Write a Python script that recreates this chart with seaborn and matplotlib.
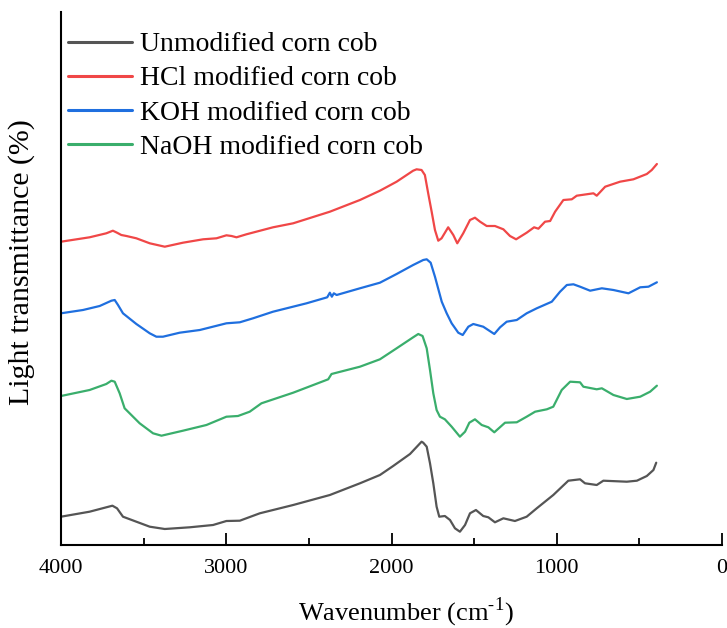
import numpy as np
import pandas as pd
import matplotlib
matplotlib.use("Agg")
import matplotlib.pyplot as plt
import seaborn as sns

# ---- data (wavenumber cm-1, offset transmittance a.u.) ----
unmod_wn = [4000, 3827, 3689, 3661, 3625, 3544, 3463, 3372, 3221, 3080, 2999, 2918, 2797, 2595,
            2373, 2191, 2070, 1990, 1888, 1818, 1808, 1787, 1767, 1747, 1727, 1711, 1677, 1646,
            1616, 1586, 1555, 1525, 1489, 1445, 1414, 1374, 1323, 1253, 1182, 1121, 1021, 930,
            859, 829, 758, 718, 576, 515, 455, 415, 398]
unmod_t = [28.3, 33.3, 39.3, 36.7, 28.3, 23.3, 18.3, 16, 17.7, 20, 24, 24.3, 31.7, 40,
           50, 61.7, 70, 79, 91, 103.3, 102.3, 98.3, 81.7, 61.7, 38.3, 28.3, 29, 25,
           16.7, 13.3, 20, 31.7, 35, 29, 27.7, 22.7, 26.7, 24, 28.3, 36.7, 50, 64.3,
           65.7, 61.7, 60, 64.3, 63.3, 64.3, 69, 75, 82.3]

hcl_wn = [4000, 3827, 3726, 3686, 3661, 3635, 3604, 3544, 3463, 3372, 3262, 3140, 3059, 2999,
          2968, 2938, 2878, 2717, 2595, 2373, 2191, 2070, 1969, 1869, 1848, 1818, 1798, 1778,
          1757, 1737, 1717, 1697, 1657, 1626, 1602, 1566, 1525, 1495, 1464, 1424, 1374, 1323,
          1283, 1246, 1182, 1137, 1111, 1071, 1040, 1010, 960, 909, 879, 778, 758, 707,
          617, 536, 455, 425, 394]
hcl_t = [303.3, 307.7, 311.7, 314.3, 312.3, 310, 309, 306.7, 301.7, 298.3, 302.3, 305.7, 306.7, 309.7,
         309, 307.7, 310.7, 317.7, 321.7, 333.3, 345, 354.3, 363.3, 374.3, 375.7, 375, 370, 351.7,
         333.3, 315, 304.3, 306.7, 317.7, 310, 301.7, 311.7, 325, 327.3, 323.3, 319, 319, 315.7,
         309, 305.7, 312.3, 317.7, 316.3, 323.3, 324, 333.3, 345, 345.7, 349.3, 351.7, 349.3, 358.3,
         363.3, 365.7, 371, 375, 381]

koh_wn = [4000, 3867, 3766, 3695, 3675, 3655, 3625, 3544, 3463, 3423, 3383, 3282, 3160, 2999,
          2918, 2838, 2717, 2514, 2389, 2373, 2361, 2349, 2332, 2191, 2070, 1969, 1869, 1808,
          1787, 1763, 1737, 1696, 1666, 1636, 1596, 1569, 1535, 1505, 1445, 1378, 1343, 1303,
          1242, 1182, 1121, 1030, 980, 939, 899, 859, 798, 727, 657, 566, 495, 445, 394]
koh_t = [231.7, 235, 239, 244.3, 245, 240, 231.7, 221, 211.7, 208.3, 208.3, 212.3, 215, 221.7,
         222.7, 226.7, 233.3, 241.7, 247.7, 252.3, 248.3, 251.7, 250, 256.7, 262.3, 271, 280, 285,
         285.7, 282.3, 268.3, 243.3, 231.7, 221.7, 212.3, 210, 218.3, 221, 218.3, 211, 217.7, 223.3,
         225, 231.7, 236.7, 243.3, 253.3, 260, 260.7, 258.3, 254.3, 256.7, 255, 251.7, 257.7, 258.3, 262.7]

naoh_wn = [4000, 3827, 3726, 3695, 3675, 3645, 3615, 3524, 3443, 3392, 3262, 3120, 2999, 2929,
           2858, 2787, 2595, 2383, 2363, 2191, 2070, 1969, 1869, 1838, 1812, 1787, 1767, 1747,
           1727, 1707, 1677, 1636, 1586, 1555, 1529, 1495, 1454, 1414, 1378, 1313, 1242, 1182,
           1131, 1060, 1021, 970, 919, 859, 839, 758, 727, 657, 576, 495, 435, 394]
naoh_t = [149, 155, 161, 164.3, 163.3, 151.7, 136.7, 121.7, 111.7, 109.3, 114.3, 120, 128.3, 129,
          133.3, 141.7, 152.3, 165.7, 171, 178.3, 185.7, 196.7, 207.7, 211, 209, 196.7, 175, 151.7,
          135, 128.3, 125.7, 118.3, 108.3, 113.3, 122.3, 125.7, 120, 117.7, 112.7, 122.3, 122.7, 128.3,
          133.3, 135.7, 138.3, 155, 163.3, 162.7, 158.3, 155.7, 156.7, 150, 146, 148.3, 153.3, 159.3]

labels = ["Unmodified corn cob", "HCl modified corn cob",
          "KOH modified corn cob", "NaOH modified corn cob"]
colors = ["#555555", "#F04747", "#1F6FDF", "#3AAE6C"]
x_ticks = [4000, 3000, 2000, 1000, 0]

frames = []
for lab, wn, t in zip(labels, [unmod_wn, hcl_wn, koh_wn, naoh_wn],
                      [unmod_t, hcl_t, koh_t, naoh_t]):
    frames.append(pd.DataFrame({"Wavenumber": wn, "T": t, "Sample": lab}))
df = pd.concat(frames, ignore_index=True)

sns.set_theme(style="ticks")
serif = ["Liberation Serif", "DejaVu Serif"]
plt.rcParams["font.family"] = serif
plt.rcParams["mathtext.fontset"] = "custom"
plt.rcParams["mathtext.rm"] = "Liberation Serif"
plt.rcParams["text.color"] = "black"
plt.rcParams["axes.labelcolor"] = "black"
plt.rcParams["xtick.color"] = "black"

fig = plt.figure(figsize=(7.27, 6.28), dpi=100)
ax = fig.add_axes([61 / 727, 83 / 628, 661 / 727, 533 / 628])

sns.lineplot(data=df, x="Wavenumber", y="T", hue="Sample", hue_order=labels,
             palette=colors, sort=False, estimator=None, linewidth=1.6, ax=ax)

ax.set_xlim(4000, 0)
ax.set_ylim(0, 533)
ax.set_xticks(x_ticks)
ax.set_xticklabels([str(v) for v in x_ticks], fontsize=16, family=serif, color="black")
ax.set_xticks([3500, 2500, 1500, 500], minor=True)
ax.set_yticks([])
ax.tick_params(axis="x", which="major", direction="in", length=9, width=1.3,
               pad=10, colors="black")
ax.tick_params(axis="x", which="minor", direction="in", length=5, width=1.3)
for s in ["top", "right"]:
    ax.spines[s].set_visible(False)
for s in ["left", "bottom"]:
    ax.spines[s].set_linewidth(1.5)
    ax.spines[s].set_color("black")

ax.set_xlabel(r"Wavenumber (cm$^{\text{-}\mathrm{1}}$)", fontsize=19, family=serif, color="black")
ax.xaxis.set_label_coords(0.522, -0.095)
ax.set_ylabel("Light transmittance (%)", fontsize=21.5, family=serif, color="black")
ax.yaxis.set_label_coords(-0.040, 0.531)

leg = ax.legend(loc="upper left", bbox_to_anchor=(0.0, 1 - 13 / 533), frameon=False,
                prop={"family": serif, "size": 20}, handlelength=2.3, handletextpad=0.3,
                labelspacing=0.31, borderaxespad=0.05, borderpad=0.2)
for line in leg.get_lines():
    line.set_linewidth(2.2)
for t in leg.get_texts():
    t.set_color("black")

fig.savefig("out.png", dpi=100)
